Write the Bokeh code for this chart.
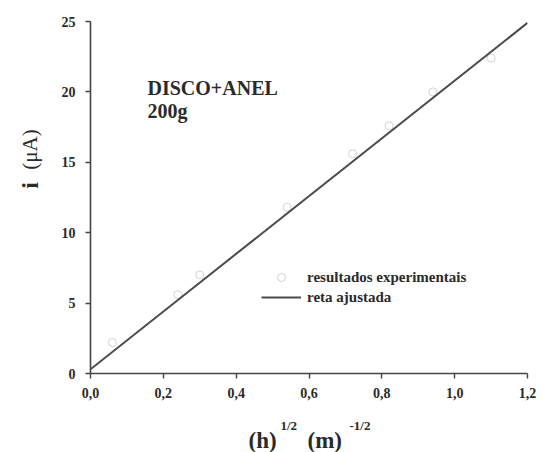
from bokeh.plotting import figure
from bokeh.layouts import row, column
from bokeh.models import Range1d, FixedTicker, Label, Legend, LegendItem
from bokeh.core.properties import value
from bokeh.embed import file_html
from bokeh.resources import INLINE
import math

# data
exp_x = [0.06, 0.24, 0.30, 0.54, 0.72, 0.82, 0.94, 1.10]
exp_y = [2.2, 5.6, 7.0, 11.8, 15.6, 17.6, 20.0, 22.4]
fit_x = [0.0, 1.2]
fit_y = [0.3, 24.9]
x_ticks = [0.0, 0.2, 0.4, 0.6, 0.8, 1.0, 1.2]
x_tick_labels = ["0,0", "0,2", "0,4", "0,6", "0,8", "1,0", "1,2"]
y_ticks = [0, 5, 10, 15, 20, 25]

FONT = "Liberation Serif"
INK = "#2a2a2a"

# ---------- main plot ----------
p = figure(width=500, height=405, output_backend="svg", toolbar_location=None,
           title=None,
           x_range=Range1d(0, 1.2), y_range=Range1d(0, 25),
           min_border_left=40, min_border_right=23, min_border_top=21, min_border_bottom=32)
p.outline_line_color = None
p.grid.grid_line_color = None

for ax in (p.xaxis[0], p.yaxis[0]):
    ax.axis_line_color = "#444444"
    ax.axis_line_width = 1.6
    ax.major_tick_line_color = "#444444"
    ax.major_tick_line_width = 1.4
    ax.major_tick_in = 0
    ax.major_tick_out = 5
    ax.minor_tick_line_color = None
    ax.major_label_text_font = FONT
    ax.major_label_text_font_style = "bold"
    ax.major_label_text_font_size = "14px"
    ax.major_label_text_color = INK

p.xaxis[0].ticker = FixedTicker(ticks=x_ticks)
p.xaxis[0].major_label_overrides = {t: l for t, l in zip(x_ticks, x_tick_labels)}
p.xaxis[0].major_label_standoff = 9
p.yaxis[0].ticker = FixedTicker(ticks=y_ticks)
p.yaxis[0].major_label_standoff = 10

sc = p.scatter(exp_x, exp_y, marker="circle", size=8, fill_color=None,
               line_color="#d2d2d2", line_width=1)
ln = p.line(fit_x, fit_y, line_color="#4a4a4a", line_width=2)

legend = Legend(items=[LegendItem(label="resultados experimentais", renderers=[sc]),
                       LegendItem(label="reta ajustada", renderers=[ln])],
                location=(171, 66), glyph_width=40, glyph_height=20, label_height=20,
                spacing=0, padding=0, margin=0, label_standoff=6,
                border_line_color=None, background_fill_alpha=0,
                label_text_font=FONT, label_text_font_style="bold",
                label_text_font_size="15px", label_text_color=INK)
p.add_layout(legend, "center")

for txt, yy in (("DISCO+ANEL", 373 - 87), ("200g", 373 - 110)):
    p.add_layout(Label(x=147 - 90, y=yy, x_units="screen", y_units="screen", text=txt,
                       text_font=FONT, text_font_style="bold", text_font_size="20px",
                       text_color=INK, text_baseline="alphabetic"))

def strip(w, h, xr, yr, bl, br, bt, bb):
    f = figure(width=w, height=h, output_backend="svg", toolbar_location=None,
               title=None,
               x_range=Range1d(*xr), y_range=Range1d(*yr),
               x_axis_location=None, y_axis_location=None,
               min_border_left=bl, min_border_right=br,
               min_border_top=bt, min_border_bottom=bb)
    f.outline_line_color = None
    f.grid.grid_line_color = None
    return f

# ---------- left strip: y axis title (ranges in page pixels) ----------
left = strip(50, 452, (0, 50), (373, 21), 0, 0, 21, 79)
left.text(x=[29], y=[185], text=["i"], angle=math.pi / 2, text_align="center",
          text_baseline="middle", text_font=value(FONT), text_font_style="bold",
          text_font_size="24px", text_color=INK)
left.text(x=[29], y=[149], text=["(\u03bcA)"], angle=math.pi / 2, text_align="center",
          text_baseline="middle", text_font=value(FONT), text_font_style="normal",
          text_font_size="21px", text_color=INK)

# ---------- bottom strip: x axis title (anchored at the strip's top edge) ----------
bottom = strip(500, 47, (90, 527), (0, 1), 40, 23, 0, 0)
bottom.text(x=[248, 307], y=[1, 1], text=["(h)", "(m)"], y_offset=35, text_align="left",
            text_baseline="alphabetic", text_font=value(FONT), text_font_style="bold",
            text_font_size="23px", text_color=INK)
bottom.text(x=[280, 349], y=[1, 1], text=["1/2", "-1/2"], y_offset=20, text_align="left",
            text_baseline="alphabetic", text_font=value(FONT), text_font_style="bold",
            text_font_size="13px", text_color=INK)

layout = row(left, column(p, bottom, spacing=0), spacing=0)
open("out.html", "w").write(file_html(layout, INLINE))
